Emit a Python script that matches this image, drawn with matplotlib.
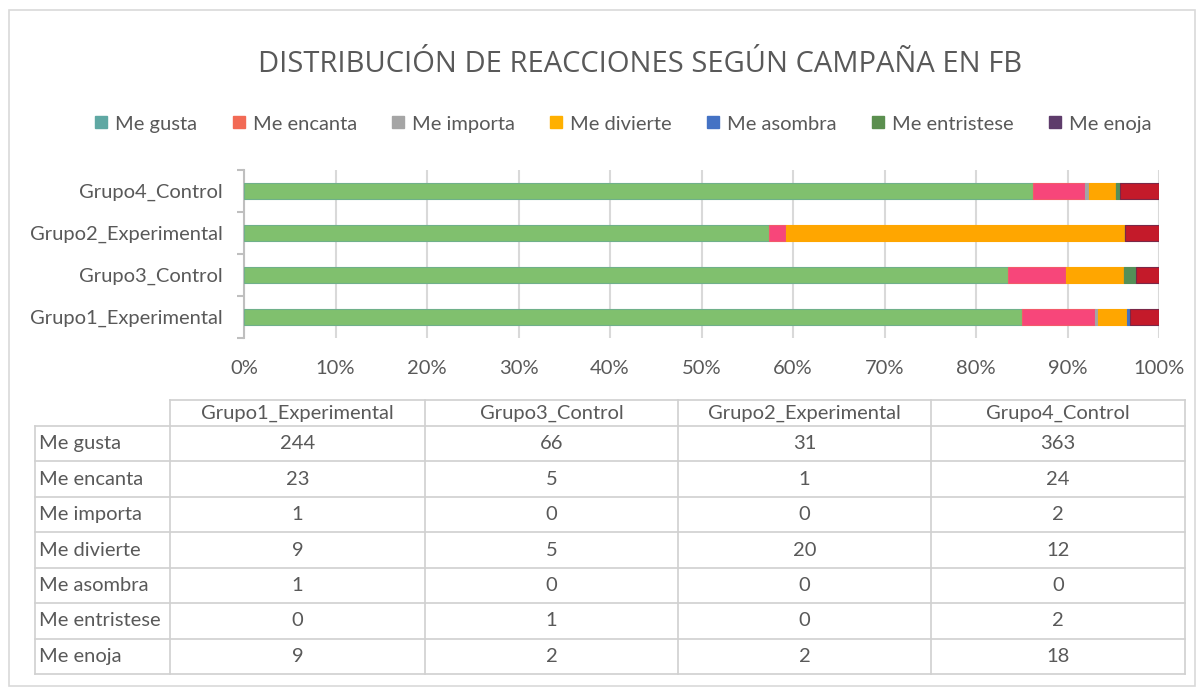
import numpy as np
import matplotlib
matplotlib.use("Agg")
import matplotlib.pyplot as plt
from matplotlib.patches import Rectangle
from matplotlib.lines import Line2D

plt.rcParams['font.family'] = ['Lato', 'DejaVu Sans']

groups = ["Grupo1_Experimental", "Grupo3_Control", "Grupo2_Experimental", "Grupo4_Control"]
reactions = ["Me gusta", "Me encanta", "Me importa", "Me divierte",
             "Me asombra", "Me entristese", "Me enoja"]
me_gusta = [244, 66, 31, 363]
me_encanta = [23, 5, 1, 24]
me_importa = [1, 0, 0, 2]
me_divierte = [9, 5, 20, 12]
me_asombra = [1, 0, 0, 0]
me_entristese = [0, 1, 0, 2]
me_enoja = [9, 2, 2, 18]

counts = np.array([me_gusta, me_encanta, me_importa, me_divierte,
                   me_asombra, me_entristese, me_enoja], dtype=float)

legend_colors = ["#5FA8A3", "#F26A55", "#A5A5A5", "#FFB000", "#4472C4", "#5B8F4F", "#5E3C6B"]
bar_colors = ["#80C06E", "#F7467A", "#A5A5A5", "#FFA600", "#4472C4", "#548F58", "#C41A2A"]
edge_colors = ["#6FB08A", "#F25A6A", "#A5A5A5", "#FFA600", "#4472C4", "#548F58", "#7A2848"]

txt = "#595959"
grid = "#D9D9D9"

W, H = 1201, 693
fig = plt.figure(figsize=(W / 100, H / 100), dpi=100)

# overlay for frame, title and table (pixel coords)
ov = fig.add_axes([0, 0, 1, 1])
ov.set_xlim(0, W)
ov.set_ylim(H, 0)
ov.axis("off")
ov.add_patch(Rectangle((9, 10), 1186, 676, fill=False, ec=grid, lw=1.2))

ov.text(640, 64, "DISTRIBUCIÓN DE REACCIONES SEGÚN CAMPAÑA EN FB", ha="center", va="center",
        fontsize=21, color=txt, fontfamily=["Open Sans", "DejaVu Sans"])

# bar chart
ax = fig.add_axes([244 / W, 1 - 338 / H, 915 / W, 168 / H])
totals = counts.sum(axis=0)
pct = counts / totals
ypos = np.arange(len(groups))
left = np.zeros(len(groups))
for i, r in enumerate(reactions):
    ax.barh(ypos, pct[i], left=left, height=0.4, color=bar_colors[i],
            edgecolor=edge_colors[i], linewidth=0.8, zorder=3)
    left += pct[i]

ax.set_xlim(0, 1)
ax.set_ylim(-0.5, len(groups) - 0.5)
ax.set_xticks(np.arange(0, 1.01, 0.1))
ax.set_xticklabels([f"{int(round(v * 100))}%" for v in np.arange(0, 1.01, 0.1)])
ax.grid(axis="x", color=grid, lw=1.5, zorder=0)
ax.set_yticks(ypos)
ax.set_yticklabels(groups)
ax.set_yticks(np.arange(-0.5, len(groups)), minor=True)
ax.tick_params(axis="y", which="major", length=0, pad=15.5, labelsize=14.5, labelcolor=txt)
ax.tick_params(axis="y", which="minor", length=5, width=1.5, color="#BFBFBF")
ax.tick_params(axis="x", length=0, pad=16, labelsize=14.5, labelcolor=txt)
for s in ["top", "right", "bottom"]:
    ax.spines[s].set_visible(False)
ax.spines["left"].set_color("#BFBFBF")
ax.spines["left"].set_linewidth(1.5)

# legend
handles = [Line2D([], [], marker="s", ls="", markersize=8, markerfacecolor=c,
                  markeredgecolor=c) for c in legend_colors]
fig.legend(handles, reactions, loc="center", bbox_to_anchor=(622 / W, 1 - 124 / H),
           ncol=7, frameon=False, fontsize=14.5, labelcolor=txt, handletextpad=0.25,
           columnspacing=1.6, handlelength=0.9)

# data table
col_x = [35, 170, 425, 678, 931, 1185]
row_y = [400, 426] + [426 + 35.43 * (k + 1) for k in range(len(reactions))]
lc = "#D0D0D0"
# header
ov.plot([col_x[1], col_x[-1]], [row_y[0], row_y[0]], color=lc, lw=1.2)
for k in range(1, len(row_y)):
    ov.plot([col_x[0], col_x[-1]], [row_y[k], row_y[k]], color=lc, lw=1.2)
for j, x in enumerate(col_x):
    y0 = row_y[0] if j > 0 else row_y[1]
    ov.plot([x, x], [y0, row_y[-1]], color=lc, lw=1.2)
for j, g in enumerate(groups):
    ov.text((col_x[j + 1] + col_x[j + 2]) / 2, (row_y[0] + row_y[1]) / 2, g,
            ha="center", va="center", fontsize=14.5, color=txt)
for k, r in enumerate(reactions):
    yc = (row_y[k + 1] + row_y[k + 2]) / 2
    ov.text(col_x[0] + 4, yc, r, ha="left", va="center", fontsize=14.5, color=txt)
    for j in range(len(groups)):
        ov.text((col_x[j + 1] + col_x[j + 2]) / 2, yc, f"{int(counts[k, j])}",
                ha="center", va="center", fontsize=14.5, color=txt)

fig.savefig("out.png", dpi=100)
